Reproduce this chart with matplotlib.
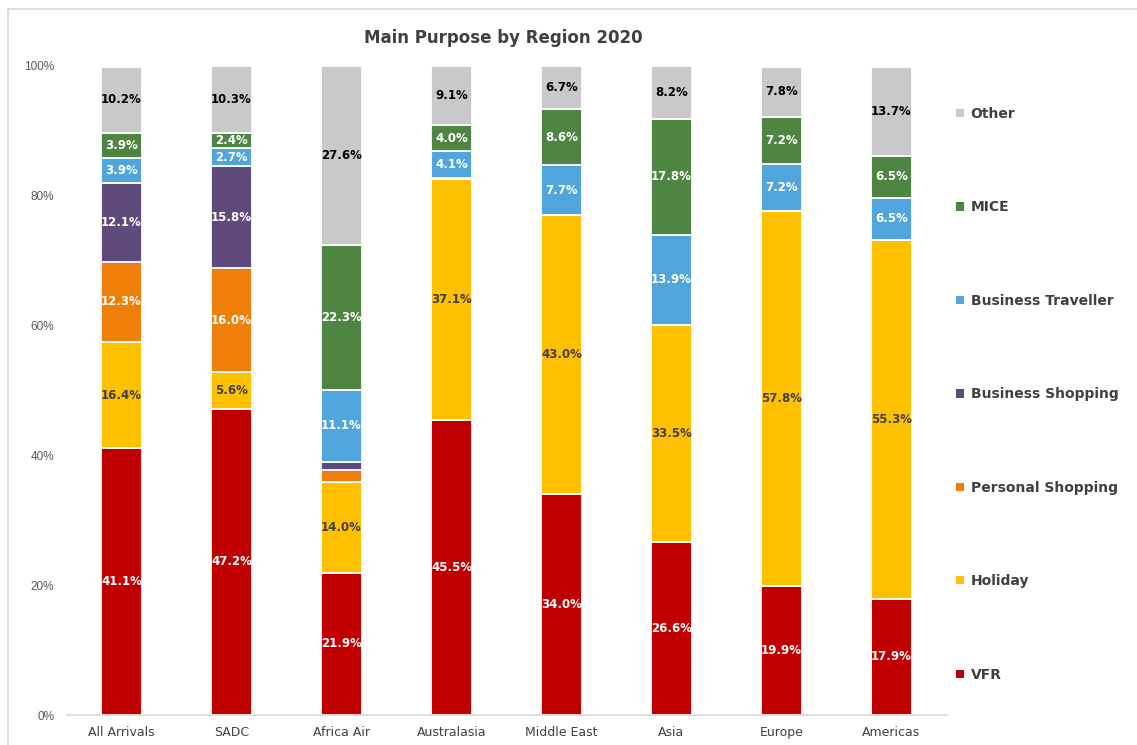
import matplotlib
matplotlib.use("Agg")
import matplotlib.pyplot as plt
from matplotlib.patches import Patch
from matplotlib.lines import Line2D
import numpy as np

regions = ["All Arrivals", "SADC", "Africa Air", "Australasia", "Middle East", "Asia", "Europe", "Americas"]
series_names = ["VFR", "Holiday", "Personal Shopping", "Business Shopping", "Business Traveller", "MICE", "Other"]

vfr = [41.1, 47.2, 21.9, 45.5, 34.0, 26.6, 19.9, 17.9]
holiday = [16.4, 5.6, 14.0, 37.1, 43.0, 33.5, 57.8, 55.3]
personal_shopping = [12.3, 16.0, 1.9, 0.1, 0.0, 0.0, 0.0, 0.0]
business_shopping = [12.1, 15.8, 1.2, 0.1, 0.0, 0.0, 0.0, 0.0]
business_traveller = [3.9, 2.7, 11.1, 4.1, 7.7, 13.9, 7.2, 6.5]
mice = [3.9, 2.4, 22.3, 4.0, 8.6, 17.8, 7.2, 6.5]
other = [10.2, 10.3, 27.6, 9.1, 6.7, 8.2, 7.8, 13.7]

values = [vfr, holiday, personal_shopping, business_shopping, business_traveller, mice, other]
colors = ["#C00000", "#FFC000", "#F07F0A", "#604A7B", "#4FA5DC", "#4E8542", "#C9C9C9"]
label_colors = ["white", "#404040", "white", "white", "white", "white", "black"]

plt.rcParams['font.family'] = ['DejaVu Sans']

fig = plt.figure(figsize=(11.37, 7.45), dpi=100)
ax = fig.add_axes([66.5 / 1137, 30 / 745, 880 / 1137, 649 / 745])

x = np.arange(len(regions))
bottom = np.zeros(len(regions))
for name, vals, col, lcol in zip(series_names, values, colors, label_colors):
    vals = np.array(vals)
    ax.bar(x, vals, 0.38, bottom=bottom, color=col, edgecolor="white", linewidth=1.3, label=name)
    for xi, b, v in zip(x, bottom, vals):
        if v >= 2:
            ax.text(xi, b + v / 2, f"{v:.1f}%", ha="center", va="center",
                    fontsize=8.5, fontweight="bold", color=lcol)
    bottom += vals

ax.set_xlim(-0.5, len(regions) - 0.5)
ax.set_ylim(0, 100)
ax.set_yticks([0, 20, 40, 60, 80, 100])
ax.set_yticklabels([f"{t}%" for t in [0, 20, 40, 60, 80, 100]],
                   fontfamily="Liberation Sans", fontsize=8.5, color="#595959")
ax.set_xticks(x)
ax.set_xticklabels(regions, fontsize=9, color="#404040")
ax.tick_params(axis="y", length=0, pad=9)
ax.tick_params(axis="x", length=0, pad=8)
for s in ["left", "right", "top"]:
    ax.spines[s].set_visible(False)
ax.spines["bottom"].set_color("#D9D9D9")
ax.spines["bottom"].set_linewidth(1.2)

fig.text(503 / 1137, 1 - 38 / 745, "Main Purpose by Region 2020", ha="center", va="center",
         fontsize=12, fontweight="bold", color="#404040")

handles = [Patch(facecolor=c, edgecolor="none") for c in colors][::-1]
labels = series_names[::-1]
leg = fig.legend(handles, labels, loc="upper left", bbox_to_anchor=(956 / 1137, 1 - 107 / 745),
                 frameon=False, fontsize=10, handlelength=0.55, handleheight=0.55,
                 handletextpad=0.5, labelspacing=5.72, borderaxespad=0, borderpad=0)
for t in leg.get_texts():
    t.set_fontweight("bold")
    t.set_color("#404040")

# chart border
fig.add_artist(Line2D([8 / 1137, 1], [1 - 9 / 745, 1 - 9 / 745], color="#D9D9D9", linewidth=1.2, transform=fig.transFigure))
fig.add_artist(Line2D([8 / 1137, 8 / 1137], [0, 1 - 9 / 745], color="#D9D9D9", linewidth=1.2, transform=fig.transFigure))

fig.savefig("out.png", dpi=100)
